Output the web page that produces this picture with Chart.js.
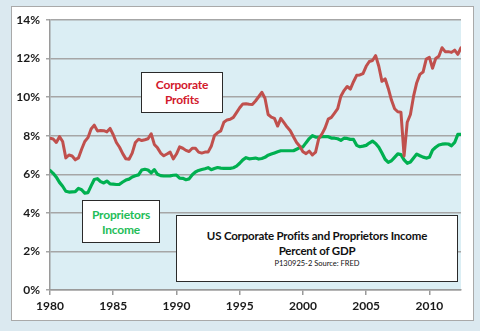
<!DOCTYPE html>
<html>
<head>
<meta charset="utf-8">
<script src="https://cdn.jsdelivr.net/npm/chart.js@4.4.0/dist/chart.umd.min.js"></script>
<style>
  html, body { margin:0; padding:0; }
  body { width:480px; height:331px; background:#dbe9f0; position:relative; overflow:hidden; font-family:Lato, 'Open Sans', sans-serif; }
  .frame { position:absolute; left:11px; top:6px; width:461px; height:313px; background:#fff; border:1px solid #a9a9a9; }
  #wrap { position:absolute; left:0; top:0; width:480px; height:331px; }
  .note { position:absolute; background:#fff; border:1.5px solid #2a2a2a; box-sizing:border-box; text-align:center; font-weight:bold; letter-spacing:-0.2px; }
  .note.red { left:141px; top:72px; width:82px; height:41px; color:#d2182b; font-size:12px; line-height:14.5px; padding-top:5px; }
  .note.green { left:82px; top:200px; width:78px; height:43px; color:#1fbd58; font-size:12px; line-height:15px; padding-top:6px; }
  .note.title { left:176px; top:215px; width:282px; height:67px; color:#111; font-size:11.5px; line-height:14.5px; padding-top:13px; }
  .note.title small { display:block; font-size:7.5px; line-height:12px; font-weight:normal; letter-spacing:0; }
</style>
</head>
<body>
<div class="frame"></div>
<div id="wrap"><canvas id="chart" width="480" height="331"></canvas></div>
<div class="note red">Corporate<br>Profits</div>
<div class="note green">Proprietors<br>Income</div>
<div class="note title">US Corporate Profits and Proprietors Income<br>Percent of GDP<small>P130925-2 Source: FRED</small></div>
<script>
// quarterly, 1980 Q1 onward, % of GDP
const startYear = 1980;
const yTicks = [0, 2, 4, 6, 8, 10, 12, 14];

const corporateProfits = [
  7.87, 7.83, 7.65, 7.95, 7.70, 6.85, 7.00, 6.95, 6.75, 6.85,
  7.30, 7.70, 7.90, 8.35, 8.55, 8.25, 8.27, 8.26, 8.20, 8.38,
  8.05, 7.65, 7.40, 7.07, 6.80, 6.78, 7.10, 7.65, 7.82, 7.75,
  7.79, 7.84, 8.10, 7.55, 7.37, 7.10, 6.96, 7.05, 7.15, 6.80,
  7.05, 7.42, 7.35, 7.24, 7.18, 7.35, 7.35, 7.15, 7.10, 7.15,
  7.15, 7.45, 8.00, 8.15, 8.25, 8.70, 8.82, 8.85, 8.95, 9.20,
  9.45, 9.65, 9.66, 9.63, 9.62, 9.80, 10.02, 10.25, 9.94, 9.10,
  8.96, 8.90, 8.50, 8.90, 8.68, 8.45, 8.26, 7.95, 7.65, 7.45,
  7.17, 7.07, 7.20, 7.00, 7.15, 7.85, 8.08, 8.40, 8.86, 8.95,
  9.17, 9.40, 10.05, 10.34, 10.55, 10.42, 10.80, 11.13, 11.15, 11.22,
  11.60, 11.85, 11.90, 12.15, 11.60, 10.82, 10.95, 10.45, 9.85, 9.40,
  9.24, 9.22, 6.95, 8.70, 9.10, 10.05, 10.75, 11.18, 11.30, 11.97,
  12.06, 11.50, 12.00, 12.12, 12.56, 12.36, 12.36, 12.32, 12.44, 12.22,
  12.56
];

const proprietorsIncome = [
  6.20, 6.05, 5.85, 5.58, 5.38, 5.12, 5.08, 5.09, 5.10, 5.27,
  5.20, 5.02, 5.05, 5.40, 5.73, 5.77, 5.62, 5.55, 5.65, 5.50,
  5.49, 5.47, 5.48, 5.60, 5.70, 5.75, 5.86, 5.92, 5.97, 6.22,
  6.26, 6.22, 6.07, 6.24, 6.00, 5.93, 5.91, 5.91, 5.92, 5.95,
  5.96, 5.80, 5.79, 5.72, 5.76, 5.98, 6.12, 6.20, 6.25, 6.29,
  6.34, 6.24, 6.30, 6.35, 6.32, 6.31, 6.31, 6.31, 6.34, 6.42,
  6.57, 6.75, 6.86, 6.80, 6.82, 6.84, 6.79, 6.82, 6.88, 6.99,
  7.05, 7.11, 7.17, 7.22, 7.22, 7.22, 7.22, 7.22, 7.30, 7.38,
  7.42, 7.64, 7.85, 8.00, 7.93, 7.92, 7.95, 7.95, 7.95, 7.88,
  7.87, 7.84, 7.76, 7.87, 7.86, 7.81, 7.81, 7.50, 7.43, 7.46,
  7.50, 7.62, 7.72, 7.60, 7.40, 7.10, 6.78, 6.62, 6.70, 6.88,
  7.06, 7.02, 6.75, 6.57, 6.64, 6.85, 7.05, 6.96, 6.89, 6.84,
  6.88, 7.25, 7.40, 7.52, 7.56, 7.58, 7.57, 7.48, 7.65, 8.07,
  8.07
];

const toPoints = arr => arr.map((v, i) => ({ x: startYear + i / 4, y: v }));
const lastX = startYear + (corporateProfits.length - 1) / 4;

// light blue fill behind the plot only
const plotBg = {
  id: 'plotBg',
  beforeDraw(chart) {
    const { ctx, chartArea: a } = chart;
    ctx.save();
    ctx.fillStyle = '#dbeef4';
    ctx.fillRect(a.left, a.top, a.right - a.left, a.bottom - a.top);
    ctx.restore();
  }
};

const tickFont = { family: 'Lato', size: 12, weight: 'bold' };

new Chart(document.getElementById('chart'), {
  type: 'line',
  data: {
    datasets: [
      { label: 'Corporate Profits', data: toPoints(corporateProfits), borderColor: '#c0504d', borderWidth: 3, pointRadius: 0, tension: 0, borderJoinStyle: 'round', borderCapStyle: 'round' },
      { label: 'Proprietors Income', data: toPoints(proprietorsIncome), borderColor: '#00b050', borderWidth: 3.2, pointRadius: 0, tension: 0, borderJoinStyle: 'round', borderCapStyle: 'round' }
    ]
  },
  options: {
    responsive: false,
    animation: false,
    layout: { padding: { left: 0, top: 20, right: 19, bottom: 0 } },
    plugins: { legend: { display: false }, tooltip: { enabled: false } },
    scales: {
      x: {
        type: 'linear', min: startYear, max: lastX,
        afterFit: s => { s.height = 41; },
        border: { color: '#9a9a9a', width: 1.5 },
        grid: { drawOnChartArea: false, drawTicks: true, tickLength: 5, color: '#9a9a9a', lineWidth: 1.5 },
        ticks: { stepSize: 5, includeBounds: false, autoSkip: false, maxRotation: 0, padding: 4, color: '#1a1a1a', font: tickFont,
                 callback: v => Number.isInteger(v) ? String(v) : '' }
      },
      y: {
        min: yTicks[0], max: yTicks[yTicks.length - 1],
        afterFit: s => { s.width = 50; },
        afterBuildTicks: s => { s.ticks = yTicks.map(v => ({ value: v })); },
        border: { color: '#9a9a9a', width: 1.5 },
        grid: { color: '#a6a6a6', lineWidth: 1.5, tickLength: 4 },
        ticks: { padding: 6, color: '#1a1a1a', font: tickFont, callback: v => v + '%' }
      }
    }
  },
  plugins: [plotBg]
});
</script>
</body>
</html>
